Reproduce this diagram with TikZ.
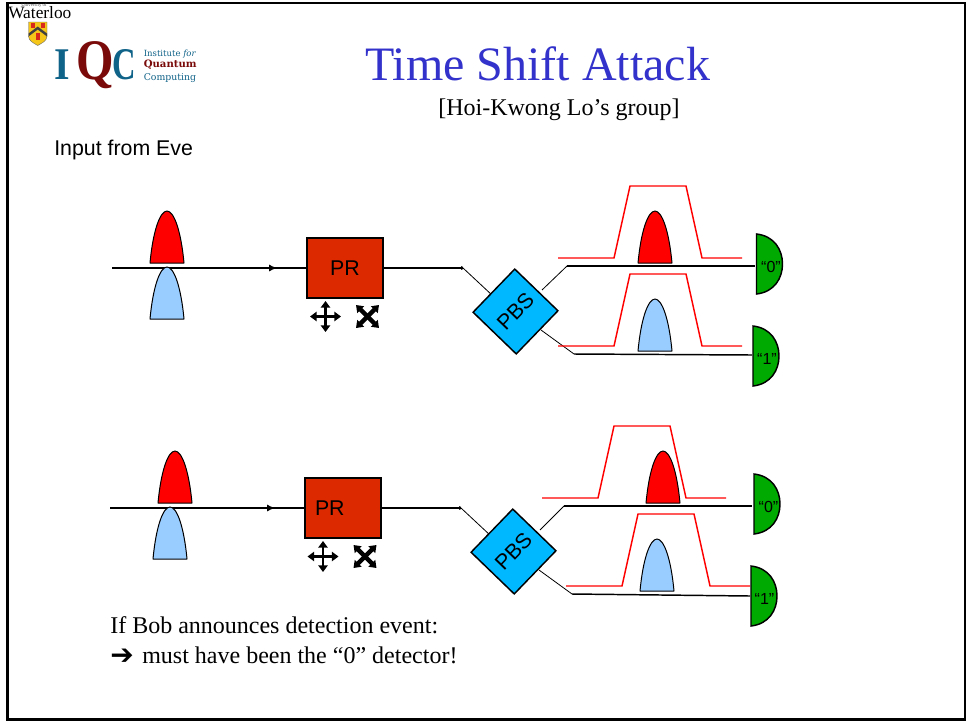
\documentclass[tikz,border=0pt]{standalone}
\usepackage{fontspec}
\setmainfont{Liberation Serif}
\setsansfont{Liberation Sans}
\newfontfamily\dvserif{DejaVu Serif}
\newfontfamily\dvsans{DejaVu Sans}
\usetikzlibrary{arrows.meta}
\definecolor{boxred}{HTML}{DC2900}
\definecolor{pbsblue}{HTML}{00B8FF}
\definecolor{detgreen}{HTML}{00AA00}
\definecolor{pulseblue}{HTML}{99CCFF}
\definecolor{titleblue}{HTML}{3333CC}
\definecolor{iqcblue}{HTML}{0F6288}
\definecolor{iqcred}{HTML}{7A0A0A}
\definecolor{crestyellow}{HTML}{F5C518}
\definecolor{crestred}{HTML}{D8281C}
\tikzset{
  wire/.style={draw=black,line width=1.1pt},
  tickwire/.style={draw=black,line width=1.1pt,-{To[length=1.5pt,width=3pt]}},
  thinwire/.style={draw=black,line width=0.6pt},
  thintick/.style={draw=black,line width=0.6pt,-{To[length=1.5pt,width=3pt]}},
  trace/.style={draw=red,line width=1.1pt,line join=miter},
  pulseshape/.style={draw=black,line width=0.75pt,line join=round},
  prbox/.style={draw=black,line width=1.1pt,fill=boxred,minimum width=57pt,minimum height=45pt,inner sep=0pt,font=\sffamily\fontsize{16}{18}\selectfont},
  pbsbox/.style={draw=black,line width=1.1pt,fill=pbsblue,minimum width=45pt,minimum height=45pt,inner sep=0pt,rotate=46,font=\sffamily\fontsize{16}{18}\selectfont},
  detector/.style={draw=black,line width=1.1pt,fill=detgreen},
  detlabel/.style={inner sep=0pt,font=\sffamily\fontsize{12}{14}\selectfont},
  movearrow/.style={draw=black,line width=2.1pt,{Triangle[length=5pt,width=7pt]}-{Triangle[length=5pt,width=7pt]}},
  flowtip/.style={draw=black,line width=1.4pt,-{Latex[length=6pt,width=5.5pt]}},
  txt/.style={anchor=base west,inner sep=0pt},
  iqcsmall/.style={anchor=base west,inner sep=0pt}
}
\newcommand{\pulsepath}[4]{% x centre, base y, top y, colour
  \draw[pulseshape,fill=#4] (#1-17,#2) .. controls (#1-14,#2-0.62*#2+0.62*#3) and (#1-7,#3) .. (#1,#3)
    .. controls (#1+7,#3) and (#1+14,#2-0.62*#2+0.62*#3) .. (#1+17,#2) -- cycle;}
\newcommand{\detshape}[2]{% flat x, top y
  \draw[detector] (#1,#2) .. controls (#1+18,#2+2) and (#1+26,#2+16) .. (#1+26,#2+30)
    .. controls (#1+26,#2+44) and (#1+18,#2+58) .. (#1,#2+60) -- cycle;}
\newcommand{\crossicon}[2]{%
  \draw[movearrow] (#1-15.5,#2) -- (#1+15.5,#2);
  \draw[movearrow] (#1,#2-15.5) -- (#1,#2+15.5);}
\newcommand{\xicon}[2]{%
  \draw[movearrow,line width=3.2pt] (#1-11.5,#2-11.5) -- (#1+11.5,#2+11.5);
  \draw[movearrow,line width=3.2pt] (#1-11.5,#2+11.5) -- (#1+11.5,#2-11.5);}
\begin{document}
\begin{tikzpicture}[x=0.75pt,y=-0.75pt]
\useasboundingbox (0,0) rectangle (966,721);
\fill[white] (0,0) rectangle (966,721);
\draw[black,line width=1.7pt] (7.5,3) rectangle (965,719.5);

% logo
\node[anchor=base west,inner sep=0pt,font=\fontsize{13}{14}\selectfont] (waterloo) at (8,18) {Waterloo};
\node[anchor=base west,inner sep=0pt,text=black!70,font=\fontsize{3.6}{4}\selectfont] (univ) at (21,6.5) {University of};
\fill[crestyellow,draw=black!60,line width=0.3pt] (28.5,22) -- (47,22) -- (47,36) .. controls (47,41) and (42,43) .. (37.75,45.5) .. controls (33.5,43) and (28.5,41) .. (28.5,36) -- cycle;
\fill[black!75] (28.5,33.5) -- (37.75,26.5) -- (47,33.5) -- (47,36.5) -- (37.75,29.5) -- (28.5,36.5) -- cycle;
\fill[crestred] (31,23) rectangle (35,28);
\fill[crestred] (40.5,23) rectangle (44.5,28);
\fill[crestred] (35.5,33) rectangle (40,40);
\node[txt,text=iqcblue,font=\fontsize{34}{38}\selectfont\bfseries,xscale=0.88] (iqci) at (54,79) {I};
\node[txt,text=iqcred,font=\fontsize{43}{46}\selectfont\bfseries,xscale=0.84] (iqcq) at (76,79) {Q};
\node[txt,text=iqcblue,font=\fontsize{34}{38}\selectfont\bfseries,xscale=0.72] (iqcc) at (112,79) {C};
\node[iqcsmall,text=iqcblue,font=\dvserif\fontsize{6.4}{8}\selectfont] (inst) at (143.5,56) {Institute {\itshape for}};
\node[iqcsmall,text=iqcred,font=\dvserif\bfseries\fontsize{7.6}{8}\selectfont] (quant) at (143.5,67) {Quantum};
\node[iqcsmall,text=iqcblue,font=\dvserif\fontsize{7}{8}\selectfont] (comp) at (143.5,80) {Computing};

% titles
\node[txt,text=titleblue,font=\fontsize{36}{40}\selectfont] (title) at (365,80) {Time Shift Attack};
\node[txt,font=\fontsize{18}{20}\selectfont] (subtitle) at (438,115) {[Hoi-Kwong Lo’s group]};
\node[txt,font=\sffamily\fontsize{16}{18}\selectfont] (input) at (54,155) {Input from Eve};

% ---------- upper row
\coordinate (a0) at (112,268);
\coordinate (a1) at (258,268);
\coordinate (a2) at (277,268);
\coordinate (a3) at (463,268);
\coordinate (a4) at (493,296);
\coordinate (at1) at (542,290);
\coordinate (at2) at (567,266);
\coordinate (at3) at (755,266);
\coordinate (ab1) at (541,330);
\coordinate (ab2) at (574,354);
\coordinate (ab3) at (752,355);
\node[prbox] (pra) at (345,268) {PR};
\draw[wire] (a0) -- (pra.west);
\draw[flowtip] (a1) -- (a2);
\draw[tickwire] (pra.east) -- (a3);
\draw[thintick] (a3) -- (a4);
\draw[thinwire] (at1) -- (at2);
\draw[wire] (at2) -- (at3);
\draw[thinwire] (ab1) -- (ab2);
\draw[wire] (ab2) -- (ab3);
\node[pbsbox] (pbsa) at (515.5,311.5) {PBS};
\pulsepath{167}{263}{211}{red}
\pulsepath{167}{319}{267}{pulseblue}
\crossicon{325.5}{316.5}
\xicon{367.5}{316.5}
\draw[trace] (558,258) -- (614,258) -- (630,186) -- (686,186) -- (702,258) -- (742,258);
\pulsepath{655}{263}{211}{red}
\draw[trace] (558,346) -- (614,346) -- (630,274) -- (686,274) -- (702,346) -- (742,346);
\pulsepath{655}{351}{299}{pulseblue}
\detshape{756.5}{234}
\detshape{753}{326}
\node[detlabel] (da0) at (771,266.5) {“0”};
\node[detlabel] (da1) at (767,358.5) {“1”};

% ---------- lower row
\coordinate (b0) at (110,508);
\coordinate (b1) at (256,508);
\coordinate (b2) at (275,508);
\coordinate (b3) at (461,508);
\coordinate (b4) at (491,536);
\coordinate (bt1) at (540,530);
\coordinate (bt2) at (564,506);
\coordinate (bt3) at (752,506);
\coordinate (bb1) at (539,570);
\coordinate (bb2) at (572,594);
\coordinate (bb3) at (750,596);
\node[prbox,text width=42pt,align=left] (prb) at (343,508) {PR};
\draw[wire] (b0) -- (prb.west);
\draw[flowtip] (b1) -- (b2);
\draw[tickwire] (prb.east) -- (b3);
\draw[thintick] (b3) -- (b4);
\draw[thinwire] (bt1) -- (bt2);
\draw[wire] (bt2) -- (bt3);
\draw[thinwire] (bb1) -- (bb2);
\draw[wire] (bb2) -- (bb3);
\node[pbsbox] (pbsb) at (513.5,551.5) {PBS};
\pulsepath{175}{503}{451}{red}
\pulsepath{170}{559}{507}{pulseblue}
\crossicon{323}{556.5}
\xicon{365}{556.5}
\draw[trace] (542,498) -- (598,498) -- (614,426) -- (670,426) -- (686,498) -- (726,498);
\pulsepath{663}{503}{451}{red}
\draw[trace] (566,586) -- (622,586) -- (638,514) -- (694,514) -- (710,586) -- (750,586);
\pulsepath{657}{591}{539}{pulseblue}
\detshape{754}{474}
\detshape{751}{566}
\node[detlabel] (db0) at (768.5,506.5) {“0”};
\node[detlabel] (db1) at (764.5,598.5) {“1”};

% caption
\node[txt,font=\fontsize{18}{20}\selectfont] (cap1) at (110,633) {If Bob announces detection event:};
\node[txt,font=\dvsans\bfseries\fontsize{21}{22}\selectfont] (caparrow) at (110,664) {➔};
\node[txt,font=\fontsize{18}{20}\selectfont] (cap2) at (142,663) {must have been the “0” detector!};
\end{tikzpicture}
\end{document}
